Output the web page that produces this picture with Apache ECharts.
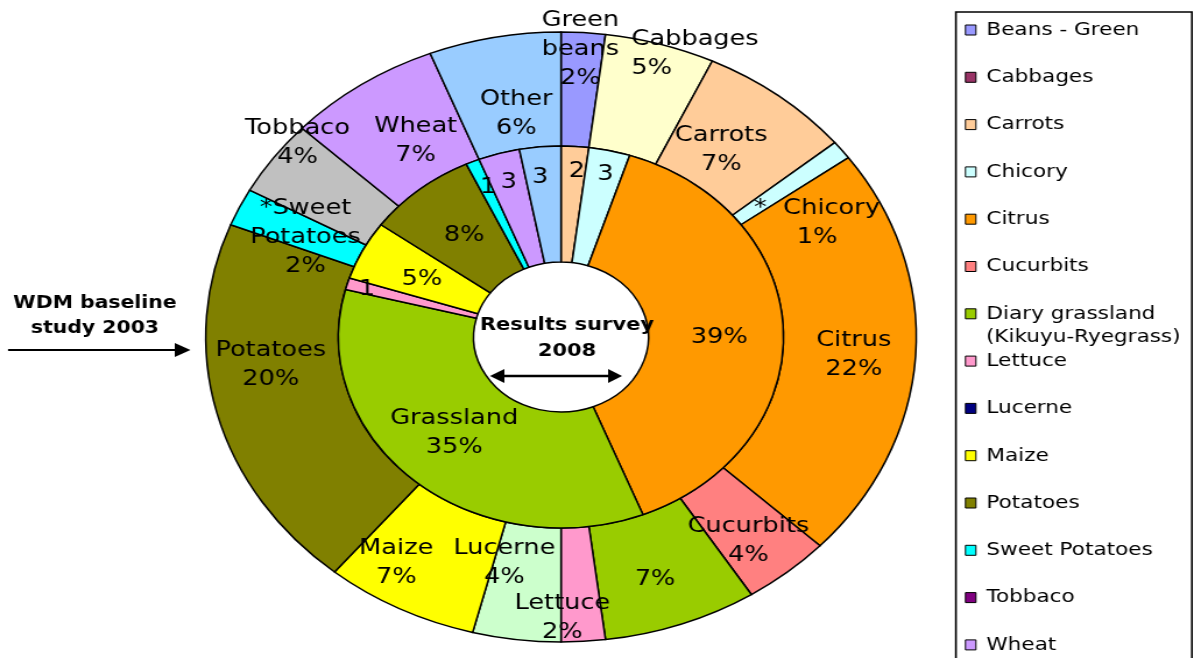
<!DOCTYPE html>
<html><head><meta charset="utf-8">
<script src="https://cdn.jsdelivr.net/npm/echarts@6/dist/echarts.min.js"></script>
<style>
html,body{margin:0;padding:0;background:#fff;overflow:hidden}
#wrap{width:1194px;height:658px;overflow:hidden;position:relative;background:#fff}
#chart{width:1025px;height:658px;transform:scaleX(1.16488);transform-origin:0 0}
</style></head>
<body><div id="wrap"><div id="chart"></div></div>
<script>
const SX = 1194 / 1025;
const FONT = '"DejaVu Sans", Verdana, sans-serif';

// ---- legend ----
const legendNames = ['Beans - Green','Cabbages','Carrots','Chicory','Citrus','Cucurbits','Diary grassland','Lettuce','Lucerne','Maize','Potatoes','Sweet Potatoes','Tobbaco','Wheat'];
const legendColors = ['#9999FF','#993366','#FFCC99','#CCFFFF','#FF9900','#FF8080','#99CC00','#FF99CC','#000080','#FFFF00','#808000','#00FFFF','#800080','#CC99FF'];

// ---- outer ring: WDM baseline study 2003 ----
const outerNames = ['Beans - Green','Cabbages','Carrots','Chicory','Citrus','Cucurbits','Diary grassland','Lettuce','Lucerne','Maize','Potatoes','Sweet Potatoes','Tobbaco','Wheat','Other'];
const outerValues = [2,5,7,1,22,4,7,2,4,7,20,2,4,7,6];
const outerLabelNames = ['Green\nbeans','Cabbages','Carrots','*  Chicory','Citrus','Cucurbits','','Lettuce','Lucerne','Maize','Potatoes','*Sweet\nPotatoes','Tobbaco','Wheat','Other'];

// ---- inner ring: Results survey 2008 ----
const innerNames = ['Carrots','Chicory','Citrus','Diary grassland','Lettuce','Maize','Potatoes','Sweet Potatoes','Wheat','Other'];
const innerValues = [2,3,39,35,1,5,8,1,3,3];
const innerLabelNames = ['','','','Grassland','','','','','',''];

// ---- styles ----
const sliceColors = {
  'Beans - Green':'#9999FF','Cabbages':'#FFFFCC','Carrots':'#FFCC99','Chicory':'#CCFFFF','Citrus':'#FF9900',
  'Cucurbits':'#FF8080','Diary grassland':'#99CC00','Lettuce':'#FF99CC','Lucerne':'#CCFFCC','Maize':'#FFFF00',
  'Potatoes':'#808000','Sweet Potatoes':'#00FFFF','Tobbaco':'#C0C0C0','Wheat':'#CC99FF','Other':'#99CCFF'
};
const leftAlignedLabels = ['Cabbages'];
// label nudges (screen px) relative to default inside position
const outerNudge = [[1,-37],[53,-42],[-19,11],[25,40],[1,2],[1,10],[-5,6],[-17,30],[-20,-23],[-32,2],[-7,-35],[9,7],[-27,-47],[19,11],[10,23]];
const innerNudge = [[6,-30],[10,-30],[0,5],[-2,-6],[-42,-10],[2,4],[4,3],[-10,-25],[-8,-24],[-6,-24]];

const chart = echarts.init(document.getElementById('chart'), null, {renderer:'canvas'});

const labelBase = {show:true, position:'inside', fontSize:22, lineHeight:29, color:'#000', fontFamily:FONT};
const CX = 561 / SX, CY = 337;

chart.setOption({
  animation:false,
  backgroundColor:'#fff',
  legend:{
    orient:'vertical', left:828.3, top:20, padding:0,
    itemWidth:9, itemHeight:10, itemGap:27.3, icon:'rect',
    itemStyle:{borderColor:'#000', borderWidth:1},
    textStyle:{fontSize:18.5, lineHeight:20, fontFamily:FONT, color:'#000', padding:[0,0,0,4]},
    data: legendNames.map((n,i)=>({name:n, itemStyle:{color:legendColors[i], borderColor:'#000', borderWidth:1}}))
  },
  series:[
    {
      type:'pie', name:'WDM baseline study 2003',
      center:[CX, CY], radius:[191,305], startAngle:90, clockwise:true,
      avoidLabelOverlap:false, emphasis:{disabled:true},
      itemStyle:{borderColor:'#000', borderWidth:1.5},
      label:Object.assign({}, labelBase, {
        formatter:p=>{
          const n = outerLabelNames[p.dataIndex];
          const t = (n ? n + '\n' : '') + p.value + '%';
          if (leftAlignedLabels.indexOf(p.name) >= 0) return t.split('\n').map(s=>'{l|'+s+'}').join('\n');
          return t;
        },
        rich:{l:{width:110, align:'left', fontSize:22, lineHeight:29, color:'#000', fontFamily:FONT}}
      }),
      labelLine:{show:false},
      labelLayout:p=>({dx:outerNudge[p.dataIndex][0]/SX, dy:outerNudge[p.dataIndex][1]}),
      data: outerNames.map((n,i)=>({name:n, value:outerValues[i], itemStyle:{color:sliceColors[n]}}))
    },
    {
      type:'pie', name:'Results survey 2008',
      center:[CX, CY], radius:[75,191], startAngle:90, clockwise:true,
      avoidLabelOverlap:false, emphasis:{disabled:true},
      itemStyle:{borderColor:'#000', borderWidth:1.5},
      label:Object.assign({}, labelBase, {
        formatter:p=>{
          const n = innerLabelNames[p.dataIndex];
          return (n ? n + '\n' : '') + p.value + (p.value >= 5 ? '%' : '');
        }
      }),
      labelLine:{show:false},
      labelLayout:p=>({dx:innerNudge[p.dataIndex][0]/SX, dy:innerNudge[p.dataIndex][1]}),
      data: innerNames.map((n,i)=>({name:n, value:innerValues[i], itemStyle:{color:sliceColors[n]}}))
    }
  ],
  graphic:[
    {type:'rect', z:50, shape:{x:820.6, y:12, width:202.6, height:700}, style:{fill:null, stroke:'#000', lineWidth:1.6}},
    {type:'text', z:100, x:846.4, y:337, style:{text:'(Kikuyu-Ryegrass)', fontSize:18.5, fontFamily:FONT, fill:'#000', verticalAlign:'middle'}},
    {type:'text', z:100, x:81.5, y:315.5, style:{text:'WDM baseline\nstudy 2003', fontSize:17.5, fontWeight:'bold', fontFamily:FONT, fill:'#000', align:'center', verticalAlign:'middle', lineHeight:25}},
    {type:'line', z:100, shape:{x1:6.9, y1:350, x2:152, y2:350}, style:{stroke:'#000', lineWidth:2}},
    {type:'polygon', z:100, shape:{points:[[150,343],[163.5,350],[150,357]]}, style:{fill:'#000'}},
    {type:'text', z:100, x:486.7, y:338, style:{text:'Results survey\n2008', fontSize:18, fontWeight:'bold', fontFamily:FONT, fill:'#000', align:'center', verticalAlign:'middle', lineHeight:26}},
    {type:'line', z:100, shape:{x1:432, y1:376, x2:523, y2:376}, style:{stroke:'#000', lineWidth:2.5}},
    {type:'polygon', z:100, shape:{points:[[433,369],[420.6,376],[433,383]]}, style:{fill:'#000'}},
    {type:'polygon', z:100, shape:{points:[[522,369],[534,376],[522,383]]}, style:{fill:'#000'}}
  ]
});
</script>
</body></html>
